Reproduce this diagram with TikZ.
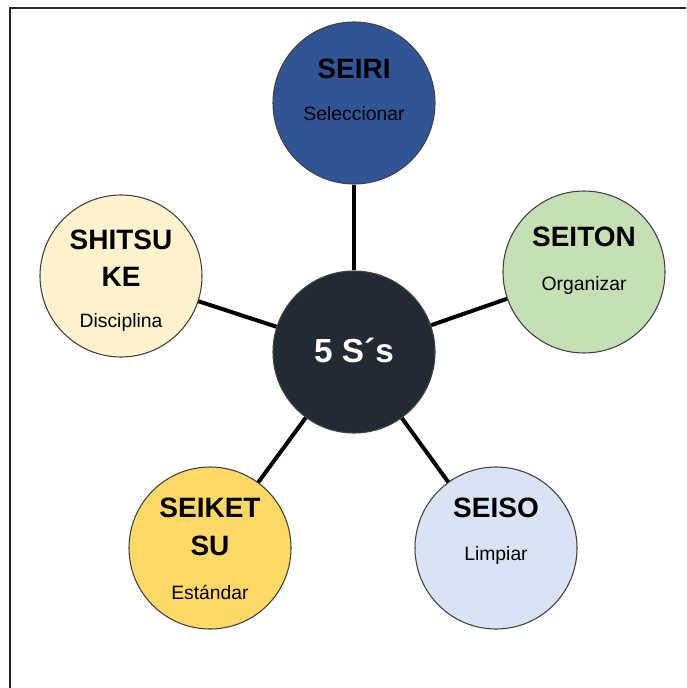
\documentclass[tikz,border=0pt]{standalone}
\usepackage{fontspec}
\setmainfont{Liberation Sans}
\usetikzlibrary{calc}
\definecolor{seiriC}{HTML}{2F5597}
\definecolor{seitonC}{HTML}{C5E0B4}
\definecolor{seisoC}{HTML}{DAE3F3}
\definecolor{seiketsuC}{HTML}{FFD966}
\definecolor{shitsukeC}{HTML}{FFF2CC}
\definecolor{hubC}{HTML}{222A35}
\tikzset{
  sbubble/.style={circle, draw=black!75, line width=0.8pt, minimum size=121.5pt, inner sep=0pt},
  hub/.style={sbubble, fill=hubC},
  spoke/.style={line width=3pt, black},
  ttl/.style={font=\fontsize{21}{28}\selectfont\bfseries, align=center, inner sep=0pt},
  sub/.style={font=\fontsize{14.5}{17}\selectfont, inner sep=0pt},
  frame/.style={line width=1.4pt, black!85}
}
\begin{document}
\begin{tikzpicture}[x=0.75pt, y=-0.75pt]
\useasboundingbox (0,0) rectangle (686,688);
\fill[white] (0,0) rectangle (686,688);
\draw[frame] (10,688) -- (10,8) -- (686,8);

% hub and the five surrounding circles
\node[hub] (hub) at (354,352) {};
\node[sbubble, fill=seiriC] (seiri) at (354,103) {};
\node[sbubble, fill=seitonC] (seiton) at (584,272) {};
\node[sbubble, fill=seisoC] (seiso) at (496,548) {};
\node[sbubble, fill=seiketsuC] (seiketsu) at (210,548) {};
\node[sbubble, fill=shitsukeC] (shitsuke) at (121,276) {};

% spokes
\foreach \n in {seiri,seiton,seiso,seiketsu,shitsuke}
  \draw[spoke] (hub) -- (\n);

% labels
\node[font=\fontsize{25}{30}\selectfont\bfseries, text=white] (hubtxt) at ($(hub)+(0,-2)$) {5 S´s};

\node[ttl] (seiriT) at ($(seiri)+(0,-34)$) {SEIRI};
\node[sub] (seiriS) at ($(seiri)+(0,11)$) {Seleccionar};

\node[ttl] (seitonT) at ($(seiton)+(0,-35)$) {SEITON};
\node[sub] (seitonS) at ($(seiton)+(0,13)$) {Organizar};

\node[ttl] (seisoT) at ($(seiso)+(0,-40)$) {SEISO};
\node[sub] (seisoS) at ($(seiso)+(0,7)$) {Limpiar};

\node[ttl] (seiketsuT) at ($(seiketsu)+(0,-21)$) {SEIKET\\SU};
\node[sub] (seiketsuS) at ($(seiketsu)+(0,44)$) {Estándar};

\node[ttl] (shitsukeT) at ($(shitsuke)+(0,-18)$) {SHITSU\\KE};
\node[sub] (shitsukeS) at ($(shitsuke)+(0,46)$) {Disciplina};
\end{tikzpicture}
\end{document}
